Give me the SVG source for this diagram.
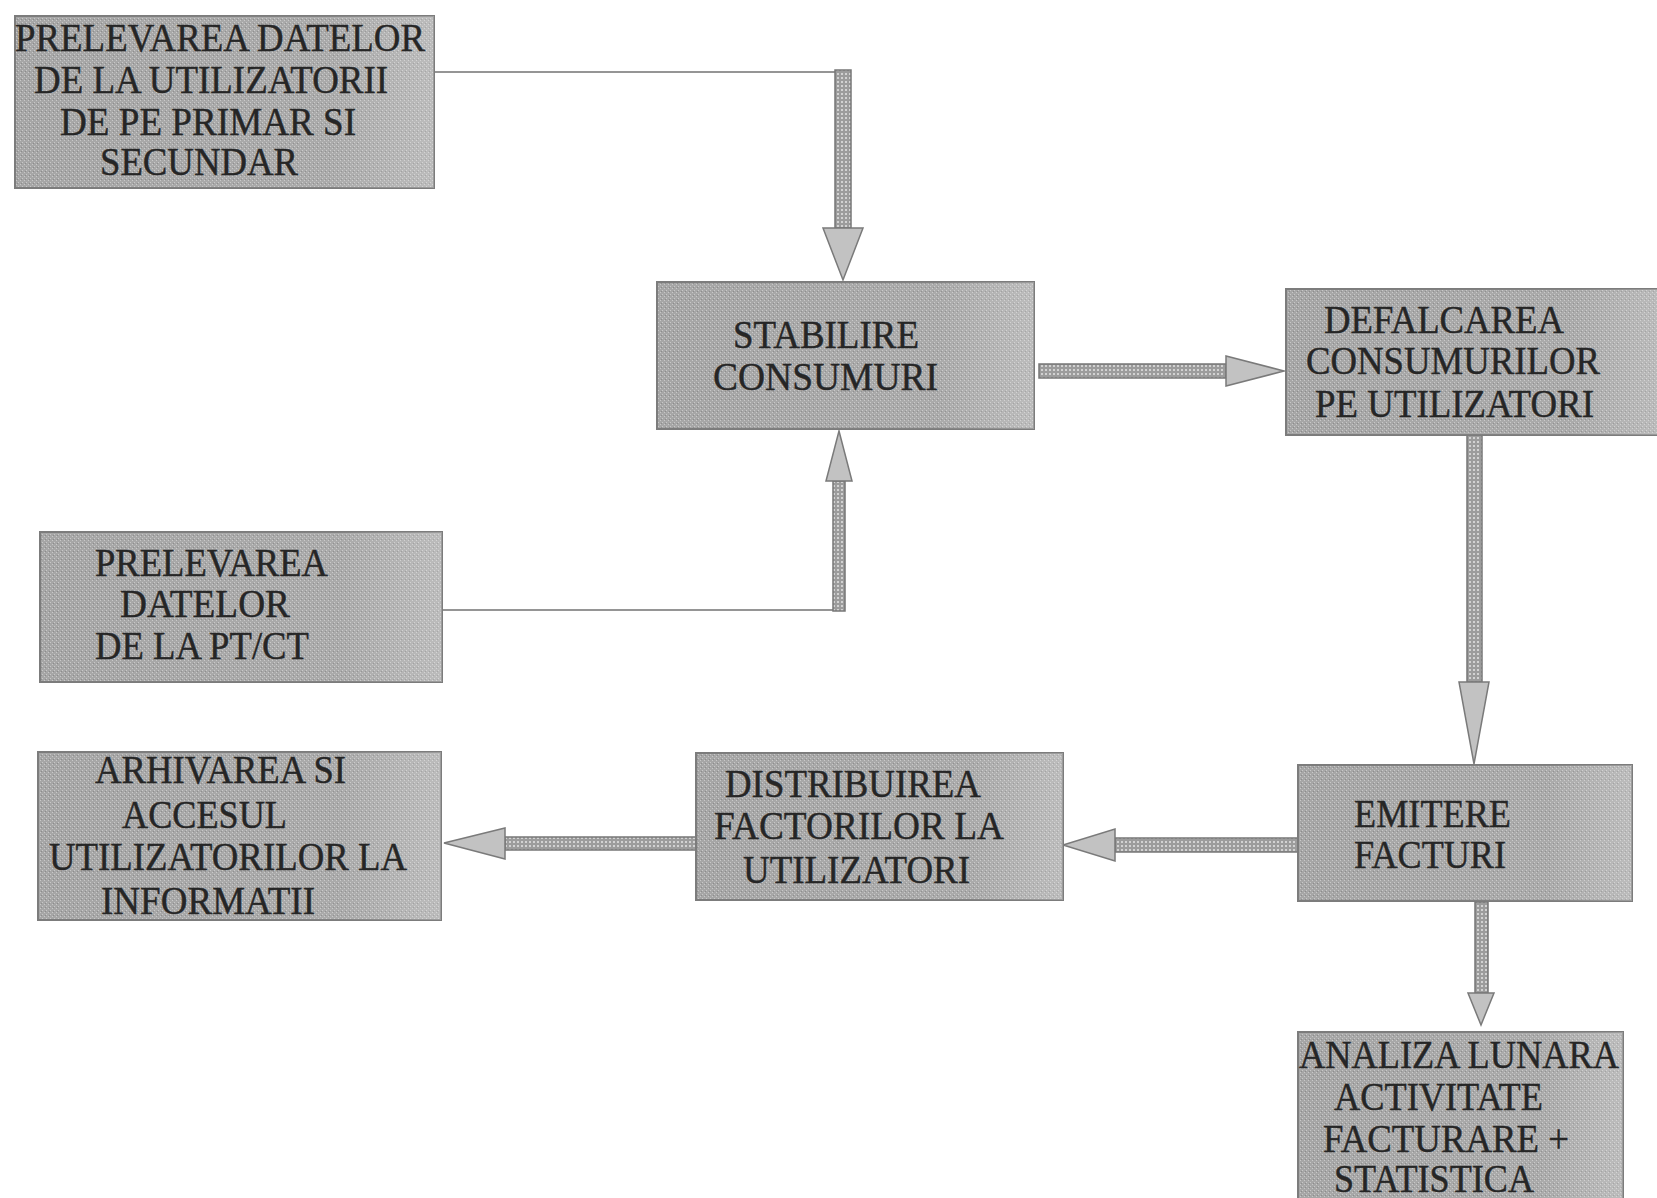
<svg xmlns="http://www.w3.org/2000/svg" width="1657" height="1198" viewBox="0 0 1657 1198">
<defs>
<pattern id="dither" width="4" height="4" patternUnits="userSpaceOnUse">
<rect width="4" height="4" fill="#a6a6a6"/>
<rect x="0" y="0" width="1" height="1" fill="#c8c8c8"/>
<rect x="2" y="2" width="1" height="1" fill="#c8c8c8"/>
<rect x="1" y="3" width="1" height="1" fill="#8c8c8c"/>
</pattern>
<pattern id="dots" width="4" height="4" patternUnits="userSpaceOnUse">
<rect width="4" height="4" fill="#9c9c9c"/>
<rect x="1" y="1" width="2" height="2" fill="#d2d2d2"/>
</pattern>
<linearGradient id="shade" x1="0" y1="0" x2="1" y2="0">
<stop offset="0" stop-color="#ffffff" stop-opacity="0"/>
<stop offset="0.75" stop-color="#ffffff" stop-opacity="0.05"/>
<stop offset="1" stop-color="#ffffff" stop-opacity="0.25"/>
</linearGradient>
</defs>
<style>
.box{fill:url(#dither);stroke:#7c7c7c;stroke-width:2}
.sh{fill:url(#shade);stroke:none}
.t{font-family:"Liberation Serif","Times New Roman",serif;font-size:39px;fill:#262626;stroke:#262626;stroke-width:0.4}
.thin{fill:none;stroke:#959595;stroke-width:2}
.shaft{fill:url(#dots);stroke:#777;stroke-width:1.5}
.head{fill:#c2c2c2;stroke:#7a7a7a;stroke-width:1.5}
</style>
<rect width="1657" height="1198" fill="#ffffff"/>

<g id="connectors">
<polyline class="thin" points="434,72 835,72"/>
<rect class="shaft" x="835" y="70" width="16" height="158"/>
<polygon class="head" points="823,228 863,228 843,280"/>

<polyline class="thin" points="442,610 845,610"/>
<rect class="shaft" x="833" y="481" width="12" height="130"/>
<polygon class="head" points="826,481 852,481 839,431"/>

<rect class="shaft" x="1039" y="364" width="187" height="14"/>
<polygon class="head" points="1226,356 1226,386 1284,371"/>

<rect class="shaft" x="1467" y="435" width="15" height="247"/>
<polygon class="head" points="1459,682 1489,682 1474,764"/>

<rect class="shaft" x="1115" y="838" width="183" height="14"/>
<polygon class="head" points="1115,829 1115,861 1063,845"/>

<rect class="shaft" x="505" y="837" width="191" height="13"/>
<polygon class="head" points="505,828 505,859 444,843"/>

<rect class="shaft" x="1475" y="902" width="13" height="91"/>
<polygon class="head" points="1468,993 1494,993 1481,1025"/>
</g>

<g id="n1">
<rect class="box" x="15" y="16" width="419" height="172"/>
<rect class="sh" x="15" y="16" width="419" height="172"/>
<text class="t" x="15" y="51" textLength="410" lengthAdjust="spacingAndGlyphs">PRELEVAREA DATELOR</text>
<text class="t" x="34" y="93" textLength="354" lengthAdjust="spacingAndGlyphs">DE LA UTILIZATORII</text>
<text class="t" x="60" y="135" textLength="296" lengthAdjust="spacingAndGlyphs">DE PE PRIMAR SI</text>
<text class="t" x="100" y="175" textLength="198" lengthAdjust="spacingAndGlyphs">SECUNDAR</text>
</g>

<g id="n2">
<rect class="box" x="657" y="282" width="377" height="147"/>
<rect class="sh" x="657" y="282" width="377" height="147"/>
<text class="t" x="733" y="348" textLength="186" lengthAdjust="spacingAndGlyphs">STABILIRE</text>
<text class="t" x="713" y="390" textLength="225" lengthAdjust="spacingAndGlyphs">CONSUMURI</text>
</g>

<g id="n3">
<rect class="box" x="1286" y="289" width="380" height="146"/>
<rect class="sh" x="1286" y="289" width="380" height="146"/>
<text class="t" x="1324" y="333" textLength="240" lengthAdjust="spacingAndGlyphs">DEFALCAREA</text>
<text class="t" x="1306" y="374" textLength="294" lengthAdjust="spacingAndGlyphs">CONSUMURILOR</text>
<text class="t" x="1315" y="417" textLength="279" lengthAdjust="spacingAndGlyphs">PE UTILIZATORI</text>
</g>

<g id="n4">
<rect class="box" x="40" y="532" width="402" height="150"/>
<rect class="sh" x="40" y="532" width="402" height="150"/>
<text class="t" x="95" y="576" textLength="233" lengthAdjust="spacingAndGlyphs">PRELEVAREA</text>
<text class="t" x="120" y="617" textLength="170" lengthAdjust="spacingAndGlyphs">DATELOR</text>
<text class="t" x="95" y="659" textLength="214" lengthAdjust="spacingAndGlyphs">DE LA PT/CT</text>
</g>

<g id="n5">
<rect class="box" x="1298" y="765" width="334" height="136"/>
<rect class="sh" x="1298" y="765" width="334" height="136"/>
<text class="t" x="1354" y="827" textLength="157" lengthAdjust="spacingAndGlyphs">EMITERE</text>
<text class="t" x="1354" y="868" textLength="152" lengthAdjust="spacingAndGlyphs">FACTURI</text>
</g>

<g id="n6">
<rect class="box" x="696" y="753" width="367" height="147"/>
<rect class="sh" x="696" y="753" width="367" height="147"/>
<text class="t" x="725" y="797" textLength="256" lengthAdjust="spacingAndGlyphs">DISTRIBUIREA</text>
<text class="t" x="714" y="839" textLength="290" lengthAdjust="spacingAndGlyphs">FACTORILOR LA</text>
<text class="t" x="743" y="883" textLength="227" lengthAdjust="spacingAndGlyphs">UTILIZATORI</text>
</g>

<g id="n7">
<rect class="box" x="38" y="752" width="403" height="168"/>
<rect class="sh" x="38" y="752" width="403" height="168"/>
<text class="t" x="95" y="783" textLength="251" lengthAdjust="spacingAndGlyphs">ARHIVAREA SI</text>
<text class="t" x="122" y="828" textLength="165" lengthAdjust="spacingAndGlyphs">ACCESUL</text>
<text class="t" x="49" y="870" textLength="358" lengthAdjust="spacingAndGlyphs">UTILIZATORILOR LA</text>
<text class="t" x="101" y="914" textLength="214" lengthAdjust="spacingAndGlyphs">INFORMATII</text>
</g>

<g id="n8">
<rect class="box" x="1298" y="1032" width="325" height="180"/>
<rect class="sh" x="1298" y="1032" width="325" height="180"/>
<text class="t" x="1299" y="1068" textLength="320" lengthAdjust="spacingAndGlyphs">ANALIZA LUNARA</text>
<text class="t" x="1334" y="1110" textLength="209" lengthAdjust="spacingAndGlyphs">ACTIVITATE</text>
<text class="t" x="1323" y="1152" textLength="246" lengthAdjust="spacingAndGlyphs">FACTURARE +</text>
<text class="t" x="1334" y="1192" textLength="200" lengthAdjust="spacingAndGlyphs">STATISTICA</text>
</g>
</svg>
